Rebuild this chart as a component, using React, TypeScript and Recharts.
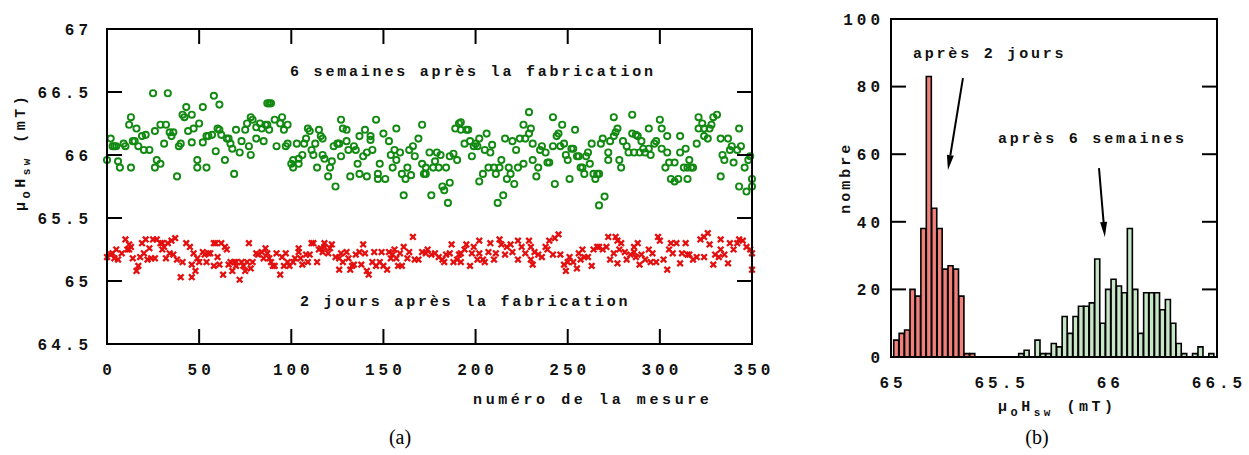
import { ScatterChart, Scatter, BarChart, Bar, Cell, XAxis, YAxis, ReferenceDot, ReferenceLine, Label } from 'recharts'

// (a) measurements 6 weeks after fabrication: [numéro, µ0Hsw (mT)]
const week6A: [number, number][] = [
  [0, 65.96], [2, 66.13], [3, 66.07], [4, 66.07], [5, 66.07], [6, 65.95], [7, 65.9], [9, 66.09], [10, 66.07], [12, 66.24],
  [13, 66.3], [13, 65.9], [14, 66.11], [15, 66.11], [16, 66.21], [17, 66.07], [19, 66.15], [20, 66.04], [21, 66.16], [23, 66.04],
  [25, 66.49], [26, 66.19], [26, 65.9], [27, 65.96], [29, 66.24], [29, 65.93], [31, 66.09], [32, 66.24], [33, 66.49], [34, 66.18],
  [35, 66.15], [36, 66.18], [38, 65.83], [39, 66.07], [40, 66.09], [41, 66.32], [42, 66.3], [43, 66.38], [44, 66.19], [46, 66.32],
  [46, 66.1], [47, 66.21], [49, 65.96], [49, 65.9], [50, 66.25], [52, 66.38], [52, 66.1], [54, 65.9], [54, 66.15], [55, 66.15],
  [57, 66.16], [58, 66.47], [59, 66.03], [60, 66.21], [61, 66.4], [61, 66.2], [62, 66.16], [64, 65.96], [65, 66.13], [66, 66.13],
  [67, 66.09], [68, 66.05], [69, 65.85], [70, 66.2], [72, 66.02], [73, 66.11], [75, 66.2], [76, 66.25], [77, 66.07], [78, 66.3],
  [78, 66.0], [79, 66.28], [81, 66.13], [81, 66.22], [83, 66.25], [84, 66.21], [85, 66.11], [86, 66.24], [87, 66.24], [88, 66.2],
  [87, 66.41], [88, 66.41], [89, 66.41], [91, 66.28], [92, 66.07], [94, 66.25], [95, 66.3], [96, 66.2], [97, 66.07], [98, 66.24],
  [98, 66.09], [100, 65.93], [101, 65.96], [101, 65.9], [103, 66.09], [104, 65.93], [104, 65.97], [106, 66.0], [107, 66.09], [108, 66.13],
  [109, 66.21], [110, 66.19], [111, 66.04], [112, 66.0], [113, 66.09], [114, 65.9], [115, 66.2], [116, 66.15], [117, 66.0], [117, 66.13],
  [118, 65.97], [120, 65.83], [121, 65.9], [122, 65.95], [123, 66.07], [124, 65.75], [125, 66.09], [126, 66.09], [127, 66.28], [127, 65.99],
  [128, 66.21], [130, 66.2], [130, 66.11], [131, 66.04], [132, 65.83], [134, 66.07], [135, 66.04], [136, 65.93], [137, 65.85], [137, 66.15],
  [139, 65.99], [140, 66.2], [141, 65.83], [141, 66.02], [143, 66.15], [143, 66.12], [144, 66.04], [146, 66.28], [147, 65.85], [147, 65.81],
  [148, 65.93], [150, 66.17], [151, 65.81], [153, 66.11], [154, 66.0], [155, 65.9], [156, 66.04], [157, 65.96], [157, 66.21], [159, 66.02],
]
const week6B: [number, number][] = [
  [160, 65.85], [161, 65.68], [162, 65.81], [163, 65.9], [164, 66.04], [165, 65.84], [166, 66.07], [167, 65.99], [169, 66.13], [171, 66.24],
  [171, 65.93], [172, 65.85], [173, 65.85], [173, 65.9], [175, 66.02], [176, 65.68], [177, 65.9], [178, 65.95], [179, 66.02], [180, 65.9],
  [181, 66.0], [182, 65.75], [183, 65.72], [184, 65.9], [185, 65.62], [186, 65.78], [186, 65.99], [188, 66.01], [189, 66.21], [190, 65.96],
  [191, 66.25], [192, 66.26], [192, 66.2], [194, 66.09], [195, 66.2], [196, 66.2], [197, 66.11], [198, 65.99], [199, 66.07], [200, 66.09],
  [201, 66.07], [202, 66.13], [202, 65.79], [204, 65.85], [205, 66.04], [206, 66.17], [207, 65.9], [208, 66.02], [209, 66.08], [210, 65.9],
  [211, 65.85], [212, 65.62], [213, 65.9], [214, 65.96], [215, 65.68], [216, 66.13], [217, 65.81], [218, 65.9], [219, 65.85], [220, 66.11],
  [221, 65.77], [222, 66.04], [223, 65.9], [224, 66.13], [226, 66.24], [226, 65.93], [227, 66.13], [229, 66.34], [229, 66.17], [230, 66.21],
  [231, 66.09], [231, 65.96], [233, 65.83], [234, 65.9], [235, 66.04], [236, 66.07], [238, 66.02], [239, 65.94], [240, 65.94], [242, 66.3],
  [242, 66.07], [243, 65.77], [244, 66.15], [245, 66.17], [246, 66.07], [247, 66.24], [248, 66.09], [249, 66.0], [250, 65.96], [251, 65.81],
  [252, 66.05], [253, 66.05], [254, 66.2], [255, 65.99], [256, 65.99], [257, 65.9], [258, 65.9], [259, 65.85], [260, 65.99], [261, 66.02],
  [262, 65.93], [263, 66.09], [264, 65.85], [265, 65.81], [266, 65.85], [267, 65.85], [267, 65.6], [268, 66.09], [269, 66.13], [270, 65.67],
  [272, 66.02], [272, 65.96], [273, 66.11], [275, 66.3], [275, 66.15], [276, 66.18], [277, 66.21], [278, 65.96], [279, 65.9], [280, 66.11],
  [282, 66.07], [283, 66.02], [285, 66.32], [285, 66.17], [286, 66.02], [287, 66.16], [288, 66.15], [289, 66.02], [290, 66.11], [291, 66.05],
  [292, 66.02], [294, 66.21], [294, 66.05], [295, 66.0], [297, 66.09], [298, 66.11], [300, 66.28], [301, 66.21], [301, 66.05], [303, 65.9],
  [304, 66.15], [304, 66.02], [305, 65.94], [306, 65.81], [308, 65.94], [308, 65.79], [310, 65.81], [311, 66.15], [311, 66.02], [313, 65.9],
  [314, 66.05], [315, 65.9], [315, 65.81], [316, 65.96], [317, 65.9], [318, 65.9], [320, 66.09], [321, 66.3], [321, 66.21], [323, 66.25],
  [324, 66.15], [324, 66.21], [326, 66.13], [327, 66.21], [328, 66.24], [329, 66.3], [331, 66.32], [333, 65.83], [333, 66.13], [334, 66.0],
  [335, 65.96], [337, 66.13], [338, 66.04], [339, 66.07], [340, 65.94], [342, 66.04], [343, 66.21], [343, 65.75], [344, 66.07], [346, 65.9],
  [347, 65.71], [348, 65.96], [349, 65.99], [350, 65.81], [350, 65.75],
]

// (a) measurements 2 days after fabrication
const day2A: [number, number][] = [
  [0, 65.19], [2, 65.21], [3, 65.22], [4, 65.18], [5, 65.25], [6, 65.17], [8, 65.22], [10, 65.33], [11, 65.25], [12, 65.29],
  [12, 65.25], [13, 65.27], [14, 65.18], [16, 65.08], [17, 65.12], [18, 65.19], [19, 65.3], [20, 65.22], [21, 65.33], [22, 65.17],
  [23, 65.26], [24, 65.18], [25, 65.33], [26, 65.18], [27, 65.33], [29, 65.3], [30, 65.25], [30, 65.3], [31, 65.27], [32, 65.18],
  [33, 65.3], [34, 65.22], [35, 65.32], [36, 65.21], [37, 65.34], [38, 65.17], [40, 65.03], [41, 65.15], [43, 65.3], [45, 65.27],
  [46, 65.13], [46, 65.03], [47, 65.22], [48, 65.08], [49, 65.18], [50, 65.15], [52, 65.23], [53, 65.21], [54, 65.15], [55, 65.22],
  [56, 65.22], [58, 65.3], [58, 65.12], [59, 65.3], [60, 65.19], [61, 65.13], [62, 65.3], [63, 65.05], [64, 65.27], [65, 65.25],
  [66, 65.13], [67, 65.15], [68, 65.08], [69, 65.15], [70, 65.12], [70, 65.15], [72, 65.01], [73, 65.15], [74, 65.12], [75, 65.08],
  [76, 65.15], [77, 65.3], [78, 65.1], [79, 65.15], [81, 65.22], [82, 65.21], [84, 65.23], [85, 65.18], [86, 65.26], [87, 65.22],
  [88, 65.18], [89, 65.15], [90, 65.12], [91, 65.12], [92, 65.22], [94, 65.05], [95, 65.19], [96, 65.12], [97, 65.22], [98, 65.15],
  [99, 65.12], [101, 65.15], [102, 65.18], [104, 65.26], [104, 65.23], [105, 65.18], [106, 65.13], [108, 65.21], [109, 65.15], [110, 65.21],
  [111, 65.3], [112, 65.3], [114, 65.15], [115, 65.25], [116, 65.26], [117, 65.23], [118, 65.27], [118, 65.3], [120, 65.22], [121, 65.26],
  [122, 65.29], [124, 65.19], [126, 65.09], [126, 65.18], [127, 65.22], [128, 65.15], [130, 65.23], [131, 65.18], [132, 65.09], [133, 65.12],
  [134, 65.13], [135, 65.21], [137, 65.23], [138, 65.13], [139, 65.29], [140, 65.22], [141, 65.08], [142, 65.05], [144, 65.15], [145, 65.23],
  [146, 65.12], [148, 65.15], [149, 65.23], [150, 65.12], [152, 65.09], [153, 65.23], [154, 65.18], [155, 65.21], [156, 65.25], [157, 65.18],
  [158, 65.12],
]
const day2B: [number, number][] = [
  [159, 65.22], [160, 65.12], [161, 65.27], [163, 65.18], [164, 65.23], [166, 65.35], [167, 65.17], [169, 65.17], [171, 65.23], [173, 65.22],
  [174, 65.25], [176, 65.21], [178, 65.22], [180, 65.19], [182, 65.17], [183, 65.15], [184, 65.21], [186, 65.22], [187, 65.29], [188, 65.15],
  [190, 65.17], [191, 65.21], [192, 65.15], [192, 65.22], [194, 65.25], [195, 65.29], [197, 65.12], [198, 65.22], [199, 65.27], [201, 65.17],
  [202, 65.32], [202, 65.22], [204, 65.17], [205, 65.15], [207, 65.23], [208, 65.3], [210, 65.17], [211, 65.22], [213, 65.33], [214, 65.29],
  [216, 65.21], [217, 65.27], [219, 65.29], [220, 65.23], [223, 65.32], [223, 65.17], [225, 65.27], [227, 65.22], [229, 65.32], [230, 65.17],
  [230, 65.27], [231, 65.13], [232, 65.23], [234, 65.21], [236, 65.19], [238, 65.27], [239, 65.25], [240, 65.32], [242, 65.21], [243, 65.34],
  [245, 65.37], [246, 65.21], [248, 65.13], [249, 65.08], [250, 65.15], [251, 65.19], [253, 65.15], [255, 65.1], [256, 65.22], [257, 65.17],
  [258, 65.25], [259, 65.19], [261, 65.19], [263, 65.12], [264, 65.25], [266, 65.27], [267, 65.27], [269, 65.25], [271, 65.27], [272, 65.35],
  [273, 65.17], [275, 65.22], [276, 65.35], [277, 65.32], [277, 65.14], [278, 65.25], [279, 65.3], [281, 65.23], [282, 65.17], [284, 65.21],
  [286, 65.27], [286, 65.23], [287, 65.19], [288, 65.3], [289, 65.13], [290, 65.21], [292, 65.17], [294, 65.25], [295, 65.15], [296, 65.22],
  [298, 65.15], [299, 65.35], [300, 65.32], [302, 65.17], [304, 65.09], [305, 65.25], [306, 65.3], [307, 65.22], [309, 65.3], [311, 65.14],
  [312, 65.22], [314, 65.3], [315, 65.21], [316, 65.21], [318, 65.17], [320, 65.19], [322, 65.33], [324, 65.19], [324, 65.35], [326, 65.38],
  [327, 65.29], [329, 65.13], [330, 65.21], [332, 65.19], [333, 65.33], [333, 65.25], [335, 65.21], [337, 65.14], [338, 65.3], [340, 65.25],
  [342, 65.3], [343, 65.33], [345, 65.32], [347, 65.27], [349, 65.25], [350, 65.22], [350, 65.09],
]

const measureTicks = [0, 50, 100, 150, 200, 250, 300, 350]
const fieldTicks = [64.5, 65, 65.5, 66, 66.5, 67]

// (b) histograms, bins of 0.025 mT
const histRedCenters = [65.025, 65.05, 65.075, 65.1, 65.125, 65.15, 65.175, 65.2, 65.225, 65.25, 65.275, 65.3, 65.325, 65.35, 65.375]
const histRedCounts = [5, 7, 8, 20, 18, 38, 83, 44, 38, 26, 27, 26, 18, 1, 1]
const histGreenCenters = [
  65.6, 65.625, 65.65, 65.675, 65.7, 65.725, 65.75, 65.775, 65.8, 65.825, 65.85, 65.875, 65.9, 65.925, 65.95, 65.975, 66.0, 66.025,
  66.05, 66.075, 66.1, 66.125, 66.15, 66.175, 66.2, 66.225, 66.25, 66.275, 66.3, 66.325, 66.35, 66.375, 66.4, 66.425, 66.45, 66.475,
]
const histGreenCounts = [1, 2, 0, 5, 1, 1, 4, 3, 12, 7, 12, 15, 15, 16, 29, 10, 20, 23, 21, 19, 38, 20, 7, 19, 19, 19, 14, 17, 10, 4, 1, 0, 1, 3, 0, 1]
const histXTicks = [65, 65.5, 66, 66.5]
const histYTicks = [0, 20, 40, 60, 80, 100]

const GREEN = '#128a12'
const RED = '#e3100f'
const INK = '#000'
const TICK = 15
const mono = '"Liberation Mono", "DejaVu Sans Mono", monospace'
const tickFont = { fill: '#111', fontSize: 16, fontFamily: mono, fontWeight: 700, letterSpacing: 4 }
const textFont = { fill: '#111', fontSize: 15, fontFamily: mono, fontWeight: 700, letterSpacing: 2.8 }

// plot boxes on the page (follow from the chart sizes / margins below)
const boxA = { l: 107, t: 29, r: 752, b: 344 }
const boxB = { l: 891, t: 19, r: 1217, b: 357 }

const week6 = [...week6A, ...week6B].map(([n, v]) => ({ n, v }))
const day2 = [...day2A, ...day2B].map(([n, v]) => ({ n, v }))
const bins = [
  ...histRedCenters.map((x, i) => ({ x, c: histRedCounts[i], grp: 'red' })),
  ...histGreenCenters.map((x, i) => ({ x, c: histGreenCounts[i], grp: 'green' })),
]

// axis props: no built-in lines, tick position = axis line (tickSize 0, tickMargin 0)
const bare = { axisLine: false, tickLine: false, tickSize: 0, tickMargin: 0 }

function BottomTick(p: any) {
  return <text x={p.x + 2} y={p.y + 30.5} textAnchor="middle" style={tickFont as any}>{p.payload.value}</text>
}
function LeftTickA(p: any) {
  return <text x={p.x - 15} y={p.y + 5.7} textAnchor="end" style={tickFont as any}>{p.payload.value}</text>
}
function LeftTickB(p: any) {
  return <text x={p.x - 7} y={p.y + 5.7} textAnchor="end" style={tickFont as any}>{p.payload.value}</text>
}

function Ring(p: any) {
  if (p.cx == null) return null
  return <circle cx={p.cx} cy={p.cy} r={3.1} fill="none" stroke={GREEN} strokeWidth={1.9} />
}

function Cross(p: any) {
  if (p.cx == null) return null
  const { cx, cy } = p
  return <path d={`M${cx - 2.8},${cy - 2.8}L${cx + 2.8},${cy + 2.8}M${cx - 2.8},${cy + 2.8}L${cx + 2.8},${cy - 2.8}`} stroke={RED} strokeWidth={2.3} />
}

const note = (txt: string) => (p: any) => (
  <text x={p.cx} y={p.cy} style={textFont as any}>{txt}</text>
)
const note6w = note('6 semaines après la fabrication')
const note2d = note('2 jours après la fabrication')
const noteB2d = note('après 2 jours')
const noteB6w = note('après 6 semaines')

function Arrow(p: any) {
  const { x1, y1, x2, y2 } = p
  const dx = x2 - x1, dy = y2 - y1
  const len = Math.sqrt(dx * dx + dy * dy) || 1
  const ux = dx / len, uy = dy / len
  const bx = x2 - ux * 15, by = y2 - uy * 15
  return (
    <g>
      <line x1={x1} y1={y1} x2={bx} y2={by} stroke={INK} strokeWidth={2} />
      <polygon points={`${x2},${y2} ${bx - uy * 3.5},${by + ux * 3.5} ${bx + uy * 3.5},${by - ux * 3.5}`} fill={INK} />
    </g>
  )
}

// µ0Hsw (mT) with subscripts
function FieldTitle({ x, y, rotate }: { x: number; y: number; rotate?: boolean }) {
  return (
    <text x={x} y={y} textAnchor="middle" transform={rotate ? `rotate(-90 ${x} ${y})` : undefined} style={{ ...textFont, letterSpacing: 3.5 } as any}>
      <tspan>µ</tspan>
      <tspan dy={5} fontSize={12}>o</tspan>
      <tspan dy={-5}>H</tspan>
      <tspan dy={5} fontSize={11}>sw</tspan>
      <tspan dy={-5}> (mT)</tspan>
    </text>
  )
}

function XTitleA({ viewBox }: any) {
  const vb = viewBox || { x: 107, y: 344, width: 645 }
  return <text x={vb.x + vb.width * 0.75 + 2} y={vb.y + 60} textAnchor="middle" style={{ ...textFont, letterSpacing: 3.6 } as any}>numéro de la mesure</text>
}
function YTitleA({ viewBox }: any) {
  const vb = viewBox || { x: 47, y: 29, width: 60, height: 315 }
  return <FieldTitle x={vb.x - 22} y={vb.y + vb.height * 0.39} rotate />
}
function XTitleB({ viewBox }: any) {
  const vb = viewBox || { x: 61, y: 357, width: 326 }
  return <FieldTitle x={vb.x + vb.width * 0.51} y={vb.y + 54} />
}
function YTitleB({ viewBox }: any) {
  const vb = viewBox || { x: 11, y: 19, width: 50, height: 338 }
  const x = vb.x + 9, y = vb.y + vb.height * 0.47
  return <text x={x} y={y} textAnchor="middle" transform={`rotate(-90 ${x} ${y})`} style={{ ...textFont, letterSpacing: 3 } as any}>nombre</text>
}

// frame + inward tick marks of both panels
function Frames() {
  const ax = (t: number) => boxA.l + (t / 350) * (boxA.r - boxA.l)
  const ay = (v: number) => boxA.b - ((v - 64.5) / 2.5) * (boxA.b - boxA.t)
  const by = (c: number) => boxB.b - (c / 100) * (boxB.b - boxB.t)
  const seg = (k: string, x1: number, y1: number, x2: number, y2: number) => (
    <line key={k} x1={x1} y1={y1} x2={x2} y2={y2} stroke={INK} strokeWidth={2} />
  )
  return (
    <svg width={1249} height={455} style={{ position: 'absolute', left: 0, top: 0, pointerEvents: 'none' }}>
      <rect x={boxA.l} y={boxA.t} width={boxA.r - boxA.l} height={boxA.b - boxA.t} fill="none" stroke={INK} strokeWidth={2} />
      <rect x={boxB.l} y={boxB.t} width={boxB.r - boxB.l} height={boxB.b - boxB.t} fill="none" stroke={INK} strokeWidth={2} />
      {measureTicks.map((t) => seg(`ab${t}`, ax(t), boxA.b, ax(t), boxA.b - TICK))}
      {measureTicks.map((t) => seg(`at${t}`, ax(t), boxA.t, ax(t), boxA.t + TICK))}
      {fieldTicks.map((v) => seg(`al${v}`, boxA.l, ay(v), boxA.l + TICK, ay(v)))}
      {fieldTicks.map((v) => seg(`ar${v}`, boxA.r, ay(v), boxA.r - TICK, ay(v)))}
      {histYTicks.map((c) => seg(`bl${c}`, boxB.l, by(c), boxB.l + TICK, by(c)))}
      {histYTicks.map((c) => seg(`br${c}`, boxB.r, by(c), boxB.r - TICK, by(c)))}
    </svg>
  )
}

export default function App() {
  return (
    <div style={{ position: 'absolute', left: 0, top: 0, width: 1249, height: 455, background: '#fff' }}>
      <div style={{ position: 'absolute', left: 0, top: 0 }}>
        <ScatterChart width={800} height={455} margin={{ top: 29, right: 48, bottom: 71, left: 47 }}>
          <XAxis type="number" dataKey="n" domain={[0, 350]} ticks={measureTicks} height={40} {...bare} tick={BottomTick}>
            <Label content={XTitleA} />
          </XAxis>
          <YAxis type="number" dataKey="v" domain={[64.5, 67]} ticks={fieldTicks} width={60} {...bare} tick={LeftTickA}>
            <Label content={YTitleA} />
          </YAxis>
          <Scatter data={week6} shape={Ring} isAnimationActive={false} />
          <Scatter data={day2} shape={Cross} isAnimationActive={false} />
          <ReferenceDot x={99.3} y={66.627} r={0} shape={note6w} />
          <ReferenceDot x={104.7} y={64.8} r={0} shape={note2d} />
        </ScatterChart>
      </div>

      <div style={{ position: 'absolute', left: 830, top: 0 }}>
        <BarChart width={419} height={455} data={bins} barCategoryGap={0} barGap={0}
          margin={{ top: 19, right: 32, bottom: 58, left: 11 }}>
          <XAxis type="number" dataKey="x" domain={[65, 66.5]} ticks={histXTicks} height={40} {...bare} tick={BottomTick}>
            <Label content={XTitleB} />
          </XAxis>
          <YAxis type="number" domain={[0, 100]} ticks={histYTicks} width={50} {...bare} tick={LeftTickB}>
            <Label content={YTitleB} />
          </YAxis>
          <Bar dataKey="c" stroke={INK} strokeWidth={1.6} isAnimationActive={false}>
            {bins.map((b, i) => (
              <Cell key={i} fill={b.grp === 'red' ? '#f08079' : '#c6e6c6'} />
            ))}
          </Bar>
          <ReferenceLine segment={[{ x: 65.331, y: 82.5 }, { x: 65.262, y: 55.3 }]} shape={Arrow} />
          <ReferenceLine segment={[{ x: 65.957, y: 55.9 }, { x: 65.984, y: 35.5 }]} shape={Arrow} />
          <ReferenceDot x={65.101} y={88.5} r={0} shape={noteB2d} />
          <ReferenceDot x={65.492} y={63.3} r={0} shape={noteB6w} />
        </BarChart>
      </div>

      <Frames />

      <div style={{ position: 'absolute', left: 370, top: 424, width: 60, textAlign: 'center', font: '20px "Liberation Serif", serif', lineHeight: '26px' }}>(a)</div>
      <div style={{ position: 'absolute', left: 1007, top: 424, width: 60, textAlign: 'center', font: '20px "Liberation Serif", serif', lineHeight: '26px' }}>(b)</div>
    </div>
  )
}
